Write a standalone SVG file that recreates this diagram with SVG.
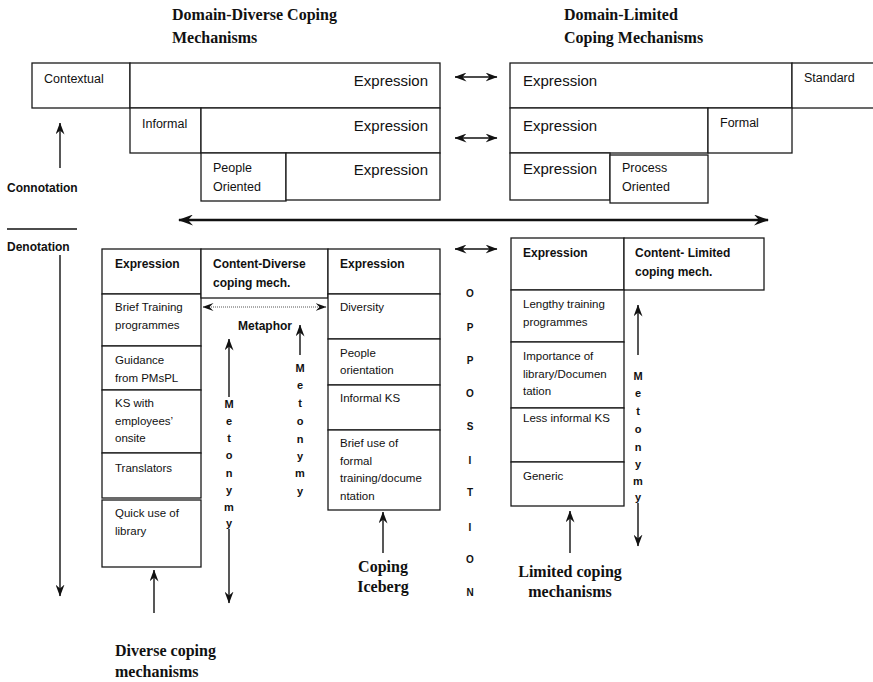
<svg xmlns="http://www.w3.org/2000/svg" width="873" height="682" viewBox="0 0 873 682">
  <style>
    .box { fill: #fff; stroke: #1a1a1a; stroke-width: 1.3; }
    .lbl { font-family: "Liberation Sans", Arial, sans-serif; font-size: 12.5px; fill: #111; }
    .big { font-family: "Liberation Sans", Arial, sans-serif; font-size: 15px; fill: #111; }
    .cell { font-family: "Liberation Sans", Arial, sans-serif; font-size: 11.5px; fill: #111; }
    .hdr { font-family: "Liberation Sans", Arial, sans-serif; font-size: 12px; font-weight: bold; fill: #111; }
    .side { font-family: "Liberation Sans", Arial, sans-serif; font-size: 12px; font-weight: bold; fill: #111; }
    .vert { font-family: "Liberation Sans", Arial, sans-serif; font-size: 11px; font-weight: bold; fill: #111; text-anchor: middle; }
    .opp { font-family: "Liberation Sans", Arial, sans-serif; font-size: 10px; font-weight: bold; fill: #111; text-anchor: middle; }
    .title { font-family: "Liberation Serif", "Times New Roman", serif; font-size: 16px; font-weight: bold; fill: #111; }
    .ln { fill: none; stroke: #111; stroke-width: 1.3; }
    .arr { fill: none; stroke: #111; stroke-width: 1.4; marker-end: url(#ah); }
    .dbl { fill: none; stroke: #111; stroke-width: 1.4; marker-start: url(#ah); marker-end: url(#ah); }
    .thick { fill: none; stroke: #111; stroke-width: 2.6; marker-start: url(#ahL); marker-end: url(#ahL); }
    .dot { fill: none; stroke: #555; stroke-width: 1; stroke-dasharray: 1 1; marker-start: url(#ahS); marker-end: url(#ahS); }
  </style>
  <defs>
    <marker id="ah" viewBox="0 0 12 9" markerWidth="12" markerHeight="9" refX="11.5" refY="4.5" orient="auto-start-reverse" markerUnits="userSpaceOnUse">
      <path d="M0,0 L12,4.5 L0,9 L4,4.5 z" fill="#111"/>
    </marker>
    <marker id="ahL" viewBox="0 0 15 11" markerWidth="15" markerHeight="11" refX="14" refY="5.5" orient="auto-start-reverse" markerUnits="userSpaceOnUse">
      <path d="M0,0 L15,5.5 L0,11 L5,5.5 z" fill="#111"/>
    </marker>
    <marker id="ahS" viewBox="0 0 11 8" markerWidth="11" markerHeight="8" refX="10.5" refY="4" orient="auto-start-reverse" markerUnits="userSpaceOnUse">
      <path d="M0,0 L11,4 L0,8 L4,4 z" fill="#111"/>
    </marker>
  </defs>

  <rect width="873" height="682" fill="#fff"/>

  <!-- Column titles -->
  <g id="title-diverse">
    <text class="title" x="172" y="20">Domain-Diverse Coping</text>
    <text class="title" x="172" y="43">Mechanisms</text>
  </g>
  <g id="title-limited">
    <text class="title" x="564" y="20">Domain-Limited</text>
    <text class="title" x="564" y="43">Coping Mechanisms</text>
  </g>

  <!-- Connotation: domain-diverse staircase -->
  <g id="dd-contextual">
    <rect class="box" x="32" y="63" width="98" height="45"/>
    <text class="lbl" x="44" y="83">Contextual</text>
  </g>
  <g id="dd-expression-1">
    <rect class="box" x="130" y="63" width="310" height="45"/>
    <text class="big" x="428" y="86" text-anchor="end">Expression</text>
  </g>
  <g id="dd-informal">
    <rect class="box" x="130" y="108" width="71" height="45"/>
    <text class="lbl" x="142" y="128">Informal</text>
  </g>
  <g id="dd-expression-2">
    <rect class="box" x="201" y="108" width="239" height="45"/>
    <text class="big" x="428" y="131" text-anchor="end">Expression</text>
  </g>
  <g id="dd-people">
    <rect class="box" x="201" y="153" width="85" height="48"/>
    <text class="lbl" x="213" y="172">People</text>
    <text class="lbl" x="213" y="191">Oriented</text>
  </g>
  <g id="dd-expression-3">
    <rect class="box" x="286" y="153" width="154" height="47"/>
    <text class="big" x="428" y="175" text-anchor="end">Expression</text>
  </g>

  <!-- Connotation: domain-limited staircase -->
  <g id="dl-expression-1">
    <rect class="box" x="510" y="63" width="282" height="45"/>
    <text class="big" x="523" y="86">Expression</text>
  </g>
  <g id="dl-standard">
    <rect class="box" x="792" y="63" width="90" height="45"/>
    <text class="lbl" x="804" y="82">Standard</text>
  </g>
  <g id="dl-expression-2">
    <rect class="box" x="510" y="108" width="198" height="45"/>
    <text class="big" x="523" y="131">Expression</text>
  </g>
  <g id="dl-formal">
    <rect class="box" x="708" y="108" width="84" height="45"/>
    <text class="lbl" x="720" y="127">Formal</text>
  </g>
  <g id="dl-expression-3">
    <rect class="box" x="510" y="153" width="100" height="47"/>
    <text class="big" x="523" y="174">Expression</text>
  </g>
  <g id="dl-process">
    <rect class="box" x="610" y="155" width="98" height="48"/>
    <text class="lbl" x="622" y="172">Process</text>
    <text class="lbl" x="622" y="191">Oriented</text>
  </g>

  <!-- Axis labels -->
  <g id="connotation">
    <text class="side" x="7" y="192">Connotation</text>
  </g>
  <g id="denotation">
    <line class="ln" x1="7" y1="229" x2="77" y2="229" stroke-width="1"/>
    <text class="side" x="7" y="251">Denotation</text>
  </g>

  <!-- Denotation: content-diverse table -->
  <g id="cd-expr-head">
    <rect class="box" x="102" y="249" width="99" height="45"/>
    <text class="hdr" x="115" y="268">Expression</text>
  </g>
  <g id="cd-brief-training">
    <rect class="box" x="102" y="294" width="99" height="52"/>
    <text class="cell" x="115" y="311">Brief Training</text>
    <text class="cell" x="115" y="329">programmes</text>
  </g>
  <g id="cd-guidance">
    <rect class="box" x="102" y="346" width="99" height="44"/>
    <text class="cell" x="115" y="364">Guidance</text>
    <text class="cell" x="115" y="382">from PMsPL</text>
  </g>
  <g id="cd-ks-onsite">
    <rect class="box" x="102" y="390" width="99" height="63"/>
    <text class="cell" x="115" y="407">KS with</text>
    <text class="cell" x="115" y="425">employees’</text>
    <text class="cell" x="115" y="442">onsite</text>
  </g>
  <g id="cd-translators">
    <rect class="box" x="102" y="453" width="99" height="45"/>
    <text class="cell" x="115" y="472">Translators</text>
  </g>
  <g id="cd-library">
    <rect class="box" x="102" y="500" width="99" height="67"/>
    <text class="cell" x="115" y="517">Quick use of</text>
    <text class="cell" x="115" y="535">library</text>
  </g>
  <g id="cd-content-head">
    <rect class="box" x="201" y="249" width="127" height="49"/>
    <text class="hdr" x="213" y="268">Content-Diverse</text>
    <text class="hdr" x="213" y="287">coping mech.</text>
  </g>
  <g id="cd-expr-head-2">
    <rect class="box" x="328" y="249" width="112" height="45"/>
    <text class="hdr" x="340" y="268">Expression</text>
  </g>
  <g id="cd-diversity">
    <rect class="box" x="328" y="294" width="112" height="45"/>
    <text class="cell" x="340" y="311">Diversity</text>
  </g>
  <g id="cd-people">
    <rect class="box" x="328" y="339" width="112" height="46"/>
    <text class="cell" x="340" y="357">People</text>
    <text class="cell" x="340" y="374">orientation</text>
  </g>
  <g id="cd-informal-ks">
    <rect class="box" x="328" y="385" width="112" height="45"/>
    <text class="cell" x="340" y="402">Informal KS</text>
  </g>
  <g id="cd-formal-brief">
    <rect class="box" x="328" y="430" width="112" height="80"/>
    <text class="cell" x="340" y="447">Brief use of</text>
    <text class="cell" x="340" y="465">formal</text>
    <text class="cell" x="340" y="482">training/docume</text>
    <text class="cell" x="340" y="500">ntation</text>
  </g>

  <!-- Denotation: content-limited table -->
  <g id="cl-expr-head">
    <rect class="box" x="511" y="238" width="113" height="52"/>
    <text class="hdr" x="523" y="257">Expression</text>
  </g>
  <g id="cl-content-head">
    <rect class="box" x="624" y="238" width="140" height="52"/>
    <text class="hdr" x="635" y="257">Content- Limited</text>
    <text class="hdr" x="635" y="276">coping mech.</text>
  </g>
  <g id="cl-lengthy">
    <rect class="box" x="511" y="290" width="113" height="52"/>
    <text class="cell" x="523" y="308">Lengthy training</text>
    <text class="cell" x="523" y="326">programmes</text>
  </g>
  <g id="cl-library">
    <rect class="box" x="511" y="342" width="113" height="66"/>
    <text class="cell" x="523" y="360">Importance of</text>
    <text class="cell" x="523" y="378">library/Documen</text>
    <text class="cell" x="523" y="395">tation</text>
  </g>
  <g id="cl-less-informal">
    <rect class="box" x="511" y="408" width="113" height="54"/>
    <text class="cell" x="523" y="422">Less informal KS</text>
  </g>
  <g id="cl-generic">
    <rect class="box" x="511" y="462" width="113" height="44"/>
    <text class="cell" x="523" y="480">Generic</text>
  </g>

  <!-- Captions under the tables -->
  <g id="cap-diverse">
    <text class="title" x="115" y="656">Diverse coping</text>
    <text class="title" x="115" y="677">mechanisms</text>
  </g>
  <g id="cap-iceberg">
    <text class="title" x="383" y="572" text-anchor="middle">Coping</text>
    <text class="title" x="383" y="592" text-anchor="middle">Iceberg</text>
  </g>
  <g id="cap-limited">
    <text class="title" x="570" y="577" text-anchor="middle">Limited coping</text>
    <text class="title" x="570" y="597" text-anchor="middle">mechanisms</text>
  </g>

  <!-- Vertical labels -->
  <g id="opposition">
    <text class="opp" x="470" y="297">O</text>
    <text class="opp" x="470" y="331">P</text>
    <text class="opp" x="470" y="364">P</text>
    <text class="opp" x="470" y="397">O</text>
    <text class="opp" x="470" y="430">S</text>
    <text class="opp" x="470" y="464">I</text>
    <text class="opp" x="470" y="496">T</text>
    <text class="opp" x="470" y="531">I</text>
    <text class="opp" x="470" y="563">O</text>
    <text class="opp" x="470" y="596">N</text>
  </g>
  <g id="metaphor">
    <text class="hdr" x="238" y="330" font-size="11.5">Metaphor</text>
  </g>
  <g id="metonymy-a">
    <text class="vert" x="229" y="408">M</text>
    <text class="vert" x="229" y="425">e</text>
    <text class="vert" x="229" y="442">t</text>
    <text class="vert" x="229" y="459">o</text>
    <text class="vert" x="229" y="477">n</text>
    <text class="vert" x="229" y="494">y</text>
    <text class="vert" x="229" y="511">m</text>
    <text class="vert" x="229" y="527">y</text>
  </g>
  <g id="metonymy-b">
    <text class="vert" x="300" y="372">M</text>
    <text class="vert" x="300" y="389">e</text>
    <text class="vert" x="300" y="407">t</text>
    <text class="vert" x="300" y="425">o</text>
    <text class="vert" x="300" y="443">n</text>
    <text class="vert" x="300" y="460">y</text>
    <text class="vert" x="300" y="477">m</text>
    <text class="vert" x="300" y="495">y</text>
  </g>
  <g id="metonymy-c">
    <text class="vert" x="638" y="380">M</text>
    <text class="vert" x="638" y="397">e</text>
    <text class="vert" x="638" y="415">t</text>
    <text class="vert" x="638" y="433">o</text>
    <text class="vert" x="638" y="451">n</text>
    <text class="vert" x="638" y="468">y</text>
    <text class="vert" x="638" y="485">m</text>
    <text class="vert" x="638" y="501">y</text>
  </g>

  <!-- Connectors -->
  <g id="connectors">
    <line class="dbl" x1="455" y1="77" x2="497" y2="77"/>
    <line class="dbl" x1="455" y1="138" x2="497" y2="138"/>
    <line class="dbl" x1="455" y1="249" x2="497" y2="249"/>
    <line class="thick" x1="179" y1="220" x2="768" y2="220"/>
    <line class="arr" x1="60" y1="168" x2="60" y2="123"/>
    <line class="arr" x1="60" y1="255" x2="60" y2="596"/>
    <line class="dot" x1="203" y1="307" x2="326" y2="307"/>
    <line class="arr" x1="229" y1="397" x2="229" y2="339"/>
    <line class="arr" x1="229" y1="529" x2="229" y2="603"/>
    <line class="arr" x1="300" y1="355" x2="300" y2="325"/>
    <line class="arr" x1="638" y1="355" x2="638" y2="305"/>
    <line class="arr" x1="638" y1="503" x2="638" y2="546"/>
    <line class="arr" x1="154" y1="613" x2="154" y2="570"/>
    <line class="arr" x1="383" y1="553" x2="383" y2="512"/>
    <line class="arr" x1="570" y1="553" x2="570" y2="511"/>
  </g>
</svg>
